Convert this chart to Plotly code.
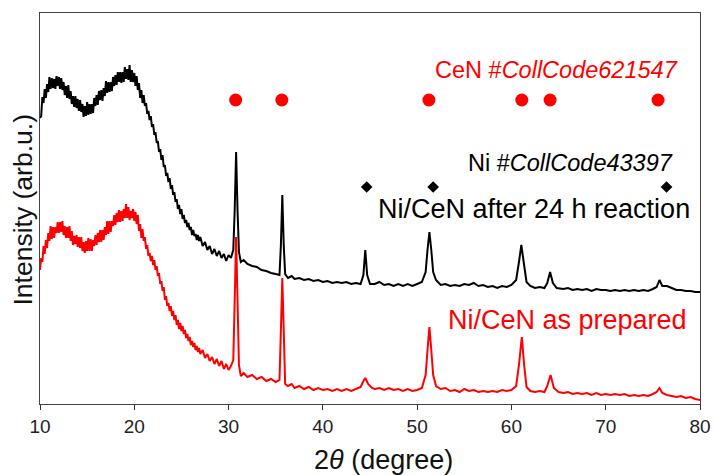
import plotly.graph_objects as go

# ---------------- data ----------------
# Ni/CeN after 24 h reaction (black)
theta_after = [
    10.000, 10.125, 10.250, 10.375, 10.500, 10.625, 10.750, 10.875,
    11.000, 11.125, 11.250, 11.375, 11.500, 11.625, 11.750, 11.875,
    12.000, 12.125, 12.250, 12.375, 12.500, 12.625, 12.750, 12.875,
    13.000, 13.125, 13.250, 13.375, 13.500, 13.625, 13.750, 13.875,
    14.000, 14.125, 14.250, 14.375, 14.500, 14.625, 14.750, 14.875,
    15.000, 15.125, 15.250, 15.375, 15.500, 15.625, 15.750, 15.875,
    16.000, 16.125, 16.250, 16.375, 16.500, 16.625, 16.750, 16.875,
    17.000, 17.125, 17.250, 17.375, 17.500, 17.625, 17.750, 17.875,
    18.000, 18.125, 18.250, 18.375, 18.500, 18.625, 18.750, 18.875,
    19.000, 19.125, 19.250, 19.375, 19.500, 19.625, 19.750, 19.875,
    20.000, 20.125, 20.250, 20.375, 20.500, 20.625, 20.750, 20.875,
    21.000, 21.125, 21.250, 21.375, 21.500, 21.625, 21.750, 21.875,
    22.000, 22.125, 22.250, 22.375, 22.500, 22.625, 22.750, 22.875,
    23.000, 23.125, 23.250, 23.375, 23.500, 23.625, 23.750, 23.875,
    24.000, 24.125, 24.250, 24.375, 24.500, 24.625, 24.750, 24.875,
    25.000, 25.125, 25.250, 25.375, 25.500, 25.625, 25.750, 25.875,
    26.000, 26.125, 26.250, 26.375, 26.500, 26.625, 26.750, 26.875,
    27.00, 27.25, 27.50, 27.75, 28.00, 28.25, 28.50, 28.75, 29.00, 29.25, 29.50, 29.75,
    30.00, 30.25, 30.50, 30.65, 30.80, 30.95, 31.10, 31.30, 31.60, 32.00, 32.50, 33.00,
    33.50, 34.00, 34.50, 35.00, 35.40, 35.55, 35.70, 35.85, 36.00, 36.30, 36.70, 37.00,
    37.50, 38.00, 38.50, 39.00, 39.50, 40.00, 40.50, 41.00, 41.50, 42.00, 42.50, 43.00,
    43.50, 44.00, 44.30, 44.50, 44.70, 45.00, 45.50, 46.00, 46.50, 47.00, 47.50, 48.00,
    48.50, 49.00, 49.50, 50.00, 50.50, 50.90, 51.10, 51.30, 51.50, 51.70, 52.00, 52.50,
    53.00, 53.50, 54.00, 54.50, 55.00, 55.50, 56.00, 56.50, 57.00, 57.50, 58.00, 58.50,
    59.00, 59.50, 60.00, 60.50, 60.80, 61.05, 61.30, 61.60, 62.00, 62.50, 63.00, 63.50,
    63.80, 64.10, 64.40, 64.80, 65.50, 66.00, 66.50, 67.00, 67.50, 68.00, 68.50, 69.00,
    69.50, 70.00, 70.50, 71.00, 71.50, 72.00, 72.50, 73.00, 73.50, 74.00, 74.50, 75.00,
    75.40, 75.70, 76.00, 76.50, 77.00, 77.50, 78.00, 78.50, 79.00, 79.50, 80.00,
]
intensity_after = [
    282, 284, 303, 297, 311, 302, 316, 308,
    323, 311, 322, 312, 321, 311, 324, 314,
    323, 311, 322, 310, 318, 305, 314, 302,
    315, 301, 309, 296, 304, 293, 304, 292,
    301, 289, 300, 288, 296, 283, 294, 284,
    298, 285, 296, 286, 296, 287, 302, 294,
    305, 295, 309, 300, 310, 299, 312, 304,
    319, 307, 318, 308, 318, 309, 323, 314,
    325, 315, 328, 318, 328, 317, 328, 318,
    333, 321, 331, 320, 335, 318, 330, 318,
    327, 314, 324, 310, 317, 302, 310, 297,
    305, 294, 297, 286, 289, 280, 284, 273,
    276, 265, 268, 257, 259, 248, 251, 240,
    245, 233, 235, 224, 227, 218, 222, 211,
    215, 205, 208, 198, 201, 191, 195, 186,
    191, 181, 185, 177, 180, 173, 177, 170,
    173, 165, 170, 164, 166, 160, 165, 159,
    163, 154, 158, 150, 154, 146, 151, 144, 149, 142, 146, 139,
    145, 142, 150, 190, 248, 190, 148, 138, 140, 136, 134, 133,
    130, 129, 127, 126, 125, 155, 205, 155, 126, 122, 124, 121,
    122, 120, 121, 119, 120, 118, 119, 117, 118, 117, 118, 116,
    117, 116, 125, 150, 125, 116, 116, 118, 115, 116, 114, 116,
    114, 116, 114, 116, 118, 128, 150, 168, 150, 128, 120, 115,
    116, 114, 115, 114, 116, 115, 117, 114, 115, 113, 114, 112,
    114, 113, 115, 120, 138, 155, 138, 118, 114, 112, 113, 112,
    117, 128, 117, 112, 111, 112, 110, 111, 110, 111, 109, 111,
    110, 110, 109, 110, 109, 110, 109, 110, 109, 110, 109, 111,
    113, 120, 114, 114, 112, 110, 110, 109, 109, 108, 108,
]

# Ni/CeN as prepared (red)
theta_prep = [
    10.000, 10.125, 10.250, 10.375, 10.500, 10.625, 10.750, 10.875,
    11.000, 11.125, 11.250, 11.375, 11.500, 11.625, 11.750, 11.875,
    12.000, 12.125, 12.250, 12.375, 12.500, 12.625, 12.750, 12.875,
    13.000, 13.125, 13.250, 13.375, 13.500, 13.625, 13.750, 13.875,
    14.000, 14.125, 14.250, 14.375, 14.500, 14.625, 14.750, 14.875,
    15.000, 15.125, 15.250, 15.375, 15.500, 15.625, 15.750, 15.875,
    16.000, 16.125, 16.250, 16.375, 16.500, 16.625, 16.750, 16.875,
    17.000, 17.125, 17.250, 17.375, 17.500, 17.625, 17.750, 17.875,
    18.000, 18.125, 18.250, 18.375, 18.500, 18.625, 18.750, 18.875,
    19.000, 19.125, 19.250, 19.375, 19.500, 19.625, 19.750, 19.875,
    20.000, 20.125, 20.250, 20.375, 20.500, 20.625, 20.750, 20.875,
    21.000, 21.125, 21.250, 21.375, 21.500, 21.625, 21.750, 21.875,
    22.000, 22.125, 22.250, 22.375, 22.500, 22.625, 22.750, 22.875,
    23.000, 23.125, 23.250, 23.375, 23.500, 23.625, 23.750, 23.875,
    24.000, 24.125, 24.250, 24.375, 24.500, 24.625, 24.750, 24.875,
    25.000, 25.125, 25.250, 25.375, 25.500, 25.625, 25.750, 25.875,
    26.000, 26.125, 26.250, 26.375, 26.500, 26.625, 26.750, 26.875,
    27.00, 27.25, 27.50, 27.75, 28.00, 28.25, 28.50, 28.75, 29.00, 29.25, 29.50, 29.75,
    30.00, 30.25, 30.50, 30.65, 30.80, 30.95, 31.10, 31.30, 31.60, 32.00, 32.50, 33.00,
    33.50, 34.00, 34.50, 35.00, 35.40, 35.55, 35.70, 35.85, 36.00, 36.30, 36.70, 37.00,
    37.50, 38.00, 38.50, 39.00, 39.50, 40.00, 40.50, 41.00, 41.50, 42.00, 42.50, 43.00,
    43.50, 44.00, 44.30, 44.50, 44.80, 45.20, 45.50, 46.00, 46.50, 47.00, 47.50, 48.00,
    48.50, 49.00, 49.50, 50.00, 50.50, 50.90, 51.10, 51.30, 51.50, 51.70, 52.00, 52.50,
    53.00, 53.50, 54.00, 54.50, 55.00, 55.50, 56.00, 56.50, 57.00, 57.50, 58.00, 58.50,
    59.00, 59.50, 60.00, 60.50, 60.80, 61.10, 61.35, 61.60, 62.00, 62.50, 63.00, 63.50,
    63.80, 64.15, 64.50, 65.00, 65.50, 66.00, 66.50, 67.00, 67.50, 68.00, 68.50, 69.00,
    69.50, 70.00, 70.50, 71.00, 71.50, 72.00, 72.50, 73.00, 73.50, 74.00, 74.50, 75.00,
    75.40, 75.70, 76.00, 76.50, 77.00, 77.50, 78.00, 78.50, 79.00, 79.50, 80.00,
]
intensity_prep = [
    130, 142, 138, 154, 146, 160, 152, 167,
    159, 174, 161, 173, 162, 173, 167, 178,
    167, 178, 168, 179, 165, 174, 162, 173,
    162, 174, 159, 169, 155, 164, 156, 165,
    153, 163, 152, 163, 149, 158, 147, 159,
    149, 162, 149, 161, 149, 160, 154, 165,
    155, 167, 158, 170, 158, 170, 160, 173,
    165, 179, 166, 179, 168, 179, 174, 185,
    175, 187, 178, 190, 178, 189, 179, 191,
    182, 196, 182, 193, 180, 189, 182, 191,
    179, 188, 176, 185, 169, 176, 162, 171,
    159, 163, 151, 155, 144, 147, 139, 144,
    135, 140, 130, 134, 124, 127, 116, 119,
    109, 113, 100, 104, 94, 97, 89, 94,
    84, 89, 80, 85, 75, 80, 71, 77,
    69, 74, 66, 70, 62, 66, 59, 63,
    55, 59, 53, 57, 50, 54, 48, 52,
    46, 50, 42, 46, 39, 43, 36, 41, 34, 39, 31, 36,
    30, 34, 40, 100, 163, 100, 35, 24, 27, 23, 25, 21,
    23, 19, 21, 18, 20, 70, 122, 70, 16, 14, 16, 12,
    14, 11, 13, 10, 12, 10, 11, 9, 11, 9, 11, 9,
    11, 13, 19, 22, 16, 12, 11, 12, 10, 12, 10, 11,
    9, 11, 9, 10, 12, 25, 50, 73, 50, 25, 14, 11,
    12, 9, 10, 8, 11, 9, 10, 8, 9, 8, 9, 8,
    10, 9, 10, 14, 35, 63, 35, 13, 9, 8, 9, 8,
    14, 25, 12, 8, 7, 8, 6, 7, 6, 7, 5, 7,
    5, 6, 5, 6, 5, 6, 4, 5, 4, 5, 4, 6,
    8, 12, 7, 5, 4, 3, 4, 2, 3, 1, 0,
]

# reference peak positions
cen_ref_theta = [30.75, 35.65, 51.25, 61.1, 64.1, 75.55]
cen_ref_level = [300, 300, 300, 300, 300, 300]
ni_ref_theta = [44.65, 51.7, 76.45]
ni_ref_level = [213, 213, 213]

x_ticks = [10, 20, 30, 40, 50, 60, 70, 80]

FONT = "Liberation Sans, Arial, sans-serif"

fig = go.Figure()
fig.add_trace(go.Scatter(x=theta_after, y=intensity_after, mode="lines",
                         line=dict(color="black", width=2.0, simplify=False),
                         showlegend=False))
fig.add_trace(go.Scatter(x=theta_prep, y=intensity_prep, mode="lines",
                         line=dict(color="#ff0000", width=2.0, simplify=False),
                         showlegend=False))
fig.add_trace(go.Scatter(x=cen_ref_theta, y=cen_ref_level, mode="markers",
                         marker=dict(symbol="circle", size=13, color="#ff0000"),
                         showlegend=False))
fig.add_trace(go.Scatter(x=ni_ref_theta, y=ni_ref_level, mode="markers",
                         marker=dict(symbol="diamond", size=9, color="black"),
                         showlegend=False))

annos = [
    dict(x=77.9, y=330, text="CeN #<i>CollCode621547</i>", font=dict(size=23.5, color="#ff0000")),
    dict(x=77.35, y=237, text="Ni #<i>CollCode43397</i>", font=dict(size=23.5, color="black")),
    dict(x=79.1, y=191, text="Ni/CeN after 24 h reaction", font=dict(size=27, color="black")),
    dict(x=78.8, y=80, text="Ni/CeN as prepared", font=dict(size=27, color="#ff0000")),
]
for a in annos:
    fig.add_annotation(xref="x", yref="y", xanchor="right", yanchor="middle",
                       showarrow=False, **a)

fig.add_annotation(xref="paper", yref="paper", x=-0.026, y=0.497, textangle=-90,
                   text="Intensity (arb.u.)", showarrow=False,
                   xanchor="center", yanchor="middle",
                   font=dict(size=26.5, color="#111"))
fig.add_annotation(xref="paper", yref="paper", x=0.521, y=-0.143,
                   text="2<i>θ</i> (degree)", showarrow=False,
                   xanchor="center", yanchor="middle",
                   font=dict(size=27, color="#111"))

fig.update_layout(
    width=714, height=475,
    margin=dict(l=40, r=14, t=13, b=71, autoexpand=False),
    paper_bgcolor="white", plot_bgcolor="white",
    font=dict(family=FONT, color="#111"),
    xaxis=dict(range=[10, 80], tickvals=x_ticks, ticks="outside", ticklen=5,
               tickwidth=1.2, tickcolor="#333", showline=True, linecolor="#444",
               linewidth=1.3, mirror=True, showgrid=False, zeroline=False,
               tickfont=dict(size=19, color="#222"), automargin=False),
    yaxis=dict(range=[-4, 387], showticklabels=False, ticks="", showline=True,
               linecolor="#444", linewidth=1.3, mirror=True, showgrid=False,
               zeroline=False, automargin=False),
)

fig.write_html("out.html")
